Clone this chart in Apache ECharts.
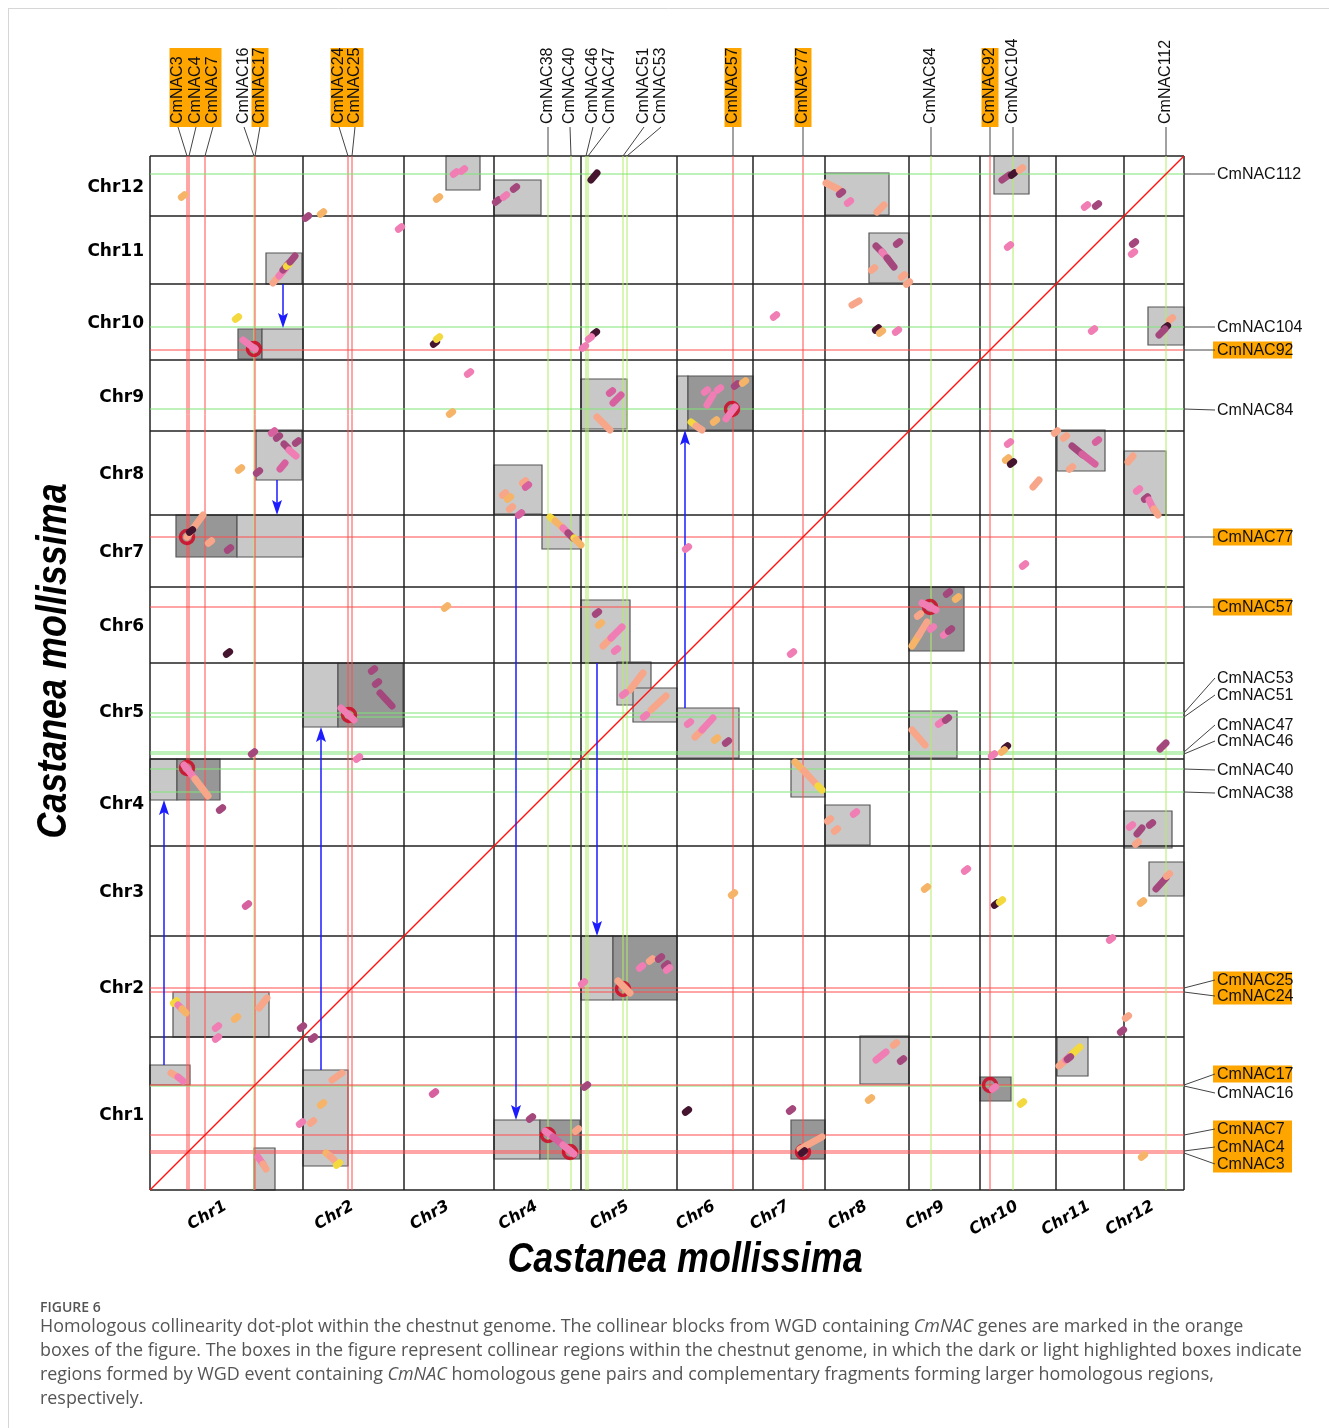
<!DOCTYPE html>
<html><head><meta charset="utf-8">
<script src="https://cdn.jsdelivr.net/npm/echarts@6/dist/echarts.min.js"></script>
<style>html,body{margin:0;padding:0;background:#fff}#chart{width:1329px;height:1428px}</style>
</head><body><div id="chart"></div>
<script>
// ---------------- DATA ----------------
const chrNames = ['Chr1','Chr2','Chr3','Chr4','Chr5','Chr6','Chr7','Chr8','Chr9','Chr10','Chr11','Chr12'];
const chrLen = [153,101,90,87,96,76,72,84,71,76,68,60];

const geneNames = ['CmNAC3','CmNAC4','CmNAC7','CmNAC16','CmNAC17','CmNAC24','CmNAC25','CmNAC38','CmNAC40','CmNAC46','CmNAC47','CmNAC51','CmNAC53','CmNAC57','CmNAC77','CmNAC84','CmNAC92','CmNAC104','CmNAC112'];
const genePos = [37,39,55,104,105,198,202,398,421,436,438,473,477,583,653,781,840,863,1016];
const geneWGD = [1,1,1,0,1,1,1,0,0,0,0,0,0,1,1,0,1,0,0];

// collinear blocks: [x1, y1, x2, y2, dark]
const boxes = [
 [296,1000,330,1034,0],[344,975,391,1010,0],[675,975,739,1017,0],[844,996,879,1034,0],
 [116,906,152,937,0],[719,907,759,957,0],
 [88,831,112,861,1],[112,831,153,861,0],[998,845,1034,883,0],
 [431,761,477,811,0],[527,760,538,814,0],[538,760,603,814,1],
 [106,710,152,760,0],[344,676,392,725,0],[907,719,955,760,0],[974,675,1016,739,0],
 [26,633,87,675,1],[87,633,153,675,0],[392,641,430,675,0],
 [431,527,480,590,0],[759,539,814,603,1],
 [153,463,188,527,0],[188,463,253,527,1],[467,485,501,528,0],[483,468,527,502,0],[527,432,589,482,0],[759,432,807,479,0],
 [0,390,27,431,0],[27,390,70,431,1],[641,393,675,431,0],[675,345,720,385,0],[974,342,1022,379,0],
 [999,294,1034,328,0],
 [431,190,463,254,0],[463,190,527,254,1],[23,153,119,198,0],
 [0,105,40,125,0],[153,24,198,120,0],[104,0,125,42,0],[344,31,390,70,0],[390,31,430,70,1],
 [641,31,675,70,1],[710,106,759,154,0],[830,89,861,113,1],[907,114,938,153,0]
];

// blue arrows: [x, yFrom, yTo]
const arrows = [[133,906,862],[127,710,675],[14,125,390],[171,120,463],[366,675,70],[447,527,254],[535,482,760]];

// highlighted WGD gene pairs
const pairs = [[37,653],[104,841],[37,422],[199,475],[582,781],[780,583],[473,201],[398,55],[420,38],[653,38],[840,105]];

// dot segments: [x1, y1, x2, y2, colourIndex]
const dots = [
 [33,994,33,994,2],[288,992,288,992,2],[305,1017,305,1017,0],[313,1020,313,1020,0],
 [347,989,347,989,5],[355,994,355,994,0],[365,1002,365,1002,5],[441,1010,447,1017,4],
 [676,1007,690,1000,1],[691,997,691,997,5],[699,988,699,988,0],[727,978,734,985,1],
 [852,1010,859,1015,5],[863,1016,863,1016,4],[871,1021,871,1021,1],
 [936,984,936,984,0],[947,985,947,985,5],[157,973,157,973,5],[172,977,172,977,2],[250,962,250,962,0],
 [123,907,129,914,1],[129,914,136,922,0],[133,920,138,926,5],[138,925,138,925,3],[140,928,145,934,5],
 [726,944,733,937,5],[732,938,738,931,0],[737,932,744,923,5],
 [748,947,748,947,5],[723,921,723,921,1],[753,914,753,914,1],[758,907,758,907,1],
 [859,944,859,944,0],[984,947,984,947,5],[983,937,983,937,0],
 [87,872,87,872,3],[93,850,105,841,0],[285,847,285,847,4],[288,852,288,852,3],
 [445,857,445,857,4],[440,852,440,852,0],[434,843,434,843,0],[625,874,625,874,0],
 [702,885,709,889,1],[727,861,727,861,4],[731,858,731,858,2],[747,859,747,859,0],
 [943,860,943,860,0],[1021,871,1021,871,1],[1016,863,1016,863,4],[1009,855,1015,861,5],
 [319,817,319,817,0],[301,777,301,777,2],
 [461,798,461,798,6],[463,787,471,795,6],[447,773,460,760,1],
 [556,799,556,799,0],[569,801,569,801,0],[557,785,563,795,0],[586,805,586,805,5],[594,808,594,808,2],
 [576,771,585,783,0],[541,768,545,765,3],[546,764,552,760,1],[565,769,565,769,2],
 [90,721,90,721,2],
 [123,758,123,758,6],[128,753,128,753,5],[134,746,138,742,5],[139,740,146,734,0],[147,748,147,748,5],[130,721,135,727,6],[108,718,108,718,5],
 [354,696,354,696,1],[359,692,359,692,2],[361,682,361,682,1],[370,676,370,676,6],[374,708,374,708,1],[377,704,377,704,6],
 [859,747,859,747,0],[857,731,857,731,2],[862,727,862,727,4],[883,703,889,710,1],
 [906,758,906,758,1],[915,753,915,753,1],[922,744,933,735,5],[932,736,945,726,6],[947,749,947,749,6],[921,722,921,722,1],
 [978,728,983,734,1],[988,700,988,700,0],[996,692,996,692,5],[999,690,1004,680,0],[1004,681,1008,675,1],
 [37,653,53,675,1],[41,659,41,659,4],[60,648,60,648,1],[79,641,79,641,5],
 [400,673,405,669,3],[405,669,414,661,2],[413,662,418,657,0],[418,657,423,652,5],[424,652,425,651,3],[426,650,431,645,2],
 [537,642,537,642,0],[874,625,874,625,0],
 [296,583,296,583,2],[78,537,78,537,4],
 [447,577,447,577,5],[450,566,450,566,2],[453,544,462,553,1],[461,552,472,563,0],[466,540,466,540,0],
 [642,537,642,537,0],
 [772,587,786,580,0],[798,597,798,597,5],[807,592,807,592,2],[762,544,769,555,2],[769,555,777,568,1],
 [782,562,782,562,0],[795,556,795,556,0],[800,560,800,560,5],[769,575,769,575,1],
 [223,520,223,520,5],[227,507,227,507,5],[230,497,242,484,5],[191,482,204,470,0],
 [480,500,493,517,1],[474,496,474,496,0],[501,480,516,494,1],[495,474,495,474,0],
 [539,467,539,467,0],[545,453,553,461,1],[552,460,563,472,0],[566,451,566,451,2],[577,448,577,448,5],
 [762,460,775,445,1],[790,467,790,467,0],[797,471,797,471,5],
 [103,437,103,437,5],[208,432,208,432,0],
 [843,435,843,435,0],[856,443,856,443,4],[853,439,853,439,2],[1010,441,1016,447,5],
 [34,425,46,410,0],[45,411,58,394,1],[71,381,71,381,5],
 [645,428,655,418,2],[654,419,666,406,1],[668,404,672,400,3],
 [679,370,679,370,1],[686,360,686,360,1],[705,377,705,377,0],
 [981,364,981,364,0],[987,356,992,362,5],[1001,366,1001,366,5],[987,347,987,347,1],
 [97,285,97,285,6],[583,296,583,296,2],[776,302,776,302,2],[816,320,816,320,0],
 [846,286,846,286,4],[851,289,851,289,3],[992,288,992,288,2],
 [1006,301,1016,312,5],[1018,315,1018,315,1],[961,251,961,251,0],
 [25,188,25,188,3],[28,185,32,181,0],[32,181,36,177,2],[67,163,67,163,0],[67,152,67,152,0],[86,172,86,172,2],[109,182,117,192,1],
 [152,163,152,163,5],[163,152,163,152,5],
 [468,209,480,197,1],[491,223,491,223,0],[501,230,501,230,1],[510,232,510,232,5],[516,225,516,225,5],[518,221,518,221,0],
 [433,207,433,207,0],[977,173,977,173,1],[972,159,972,159,5],
 [21,117,28,113,1],[28,113,33,109,0],
 [182,110,192,117,1],[172,86,172,86,2],[151,67,151,67,0],[162,68,162,68,1],[176,37,181,33,2],[180,34,184,30,1],[188,26,188,26,3],
 [108,33,113,26,0],[113,26,116,21,1],
 [284,97,284,97,6],[436,104,436,104,5],
 [381,72,381,72,5],[395,59,403,53,0],[403,53,413,45,6],[413,45,424,36,0],[427,60,427,60,1],
 [537,79,537,79,4],[641,80,641,80,5],
 [650,41,672,53,1],[653,38,653,38,4],
 [726,130,736,138,0],[752,130,752,130,5],[745,146,745,146,1],[720,91,720,91,2],
 [844,102,844,102,0],[872,87,872,87,3],
 [909,124,916,130,1],[916,130,922,136,0],[922,136,930,143,3],[919,132,919,132,5],
 [993,34,993,34,2]
];

// ---------------- LAYOUT / STYLE ----------------
const topLabelAt   = [28,46,63,94,110,189,205,398,420,443,460,494,511,583,653,781,840,863,1016];
const rightLabelAt = [26,43,61,97,116,194,210,397,420,449,465,495,512,583,653,780,840,863,1016];
const orangeGroups = [[0,2],[4,4],[5,6],[13,13],[14,14],[16,16]];
const dotColors = ['#f07db3','#f8a689','#f6b468','#f4d93e','#45142f','#a3477d','#d7609f'];
const labelFont = '"Liberation Sans", Arial, sans-serif';

const total = chrLen.reduce((a, b) => a + b, 0);
const bounds = [0];
chrLen.forEach(l => bounds.push(bounds[bounds.length - 1] + l));
const mids = chrLen.map((l, i) => bounds[i] + l / 2);

const chart = echarts.init(document.getElementById('chart'));

function rectBetween(a, b) {
  return {x: Math.min(a[0], b[0]), y: Math.min(a[1], b[1]), width: Math.abs(b[0] - a[0]), height: Math.abs(b[1] - a[1])};
}

const option = {
  animation: false,
  backgroundColor: '#fff',
  grid: {left: 150, top: 156, width: 1034, height: 1034, containLabel: false},
  xAxis: {type: 'value', min: 0, max: total, show: false},
  yAxis: {type: 'value', min: 0, max: total, show: false},
  series: [
    { // collinear blocks
      type: 'custom', name: 'blocks', silent: true, z: 1,
      data: boxes,
      renderItem: (p, api) => {
        const a = api.coord([api.value(0), api.value(3)]);
        const b = api.coord([api.value(2), api.value(1)]);
        return {type: 'rect', shape: rectBetween(a, b),
          style: {fill: api.value(4) ? '#979797' : '#c8c8c8', stroke: '#555', lineWidth: 1.2}};
      }
    },
    { // chromosome boundaries
      type: 'custom', name: 'chromosomes', silent: true, z: 2,
      data: bounds.map(b => [b, b]),
      renderItem: (p, api) => {
        const b = api.value(0);
        const v1 = api.coord([b, 0]), v2 = api.coord([b, total]);
        const h1 = api.coord([0, b]), h2 = api.coord([total, b]);
        const st = {stroke: '#222', lineWidth: 1.5};
        return {type: 'group', children: [
          {type: 'line', shape: {x1: v1[0], y1: v1[1], x2: v2[0], y2: v2[1]}, style: st},
          {type: 'line', shape: {x1: h1[0], y1: h1[1], x2: h2[0], y2: h2[1]}, style: st}
        ]};
      }
    },
    { // gene position lines
      type: 'custom', name: 'genes', silent: true, z: 3,
      data: genePos.map((g, i) => [g, g, geneWGD[i]]),
      renderItem: (p, api) => {
        const g = api.value(0), w = api.value(2);
        const v1 = api.coord([g, 0]), v2 = api.coord([g, total]);
        const h1 = api.coord([0, g]), h2 = api.coord([total, g]);
        return {type: 'group', children: [
          {type: 'line', shape: {x1: v1[0], y1: v1[1], x2: v2[0], y2: v2[1]},
            style: {stroke: w ? '#ff4d4d' : '#b3ec66', lineWidth: 1}},
          {type: 'line', shape: {x1: h1[0], y1: h1[1], x2: h2[0], y2: h2[1]},
            style: {stroke: w ? '#ff4d4d' : '#80e676', lineWidth: 1.1}}
        ]};
      }
    },
    { // diagonal
      type: 'line', name: 'diagonal', silent: true, z: 4, symbol: 'none',
      data: [[0, 0], [total, total]],
      lineStyle: {color: '#ff1414', width: 1.5}
    },
    { // arrows
      type: 'custom', name: 'arrows', silent: true, z: 5,
      data: arrows,
      renderItem: (p, api) => {
        const s = api.coord([api.value(0), api.value(1)]);
        const e = api.coord([api.value(0), api.value(2)]);
        const dir = e[1] > s[1] ? 1 : -1;
        const base = e[1] - dir * 12;
        return {type: 'group', children: [
          {type: 'line', shape: {x1: s[0], y1: s[1], x2: e[0], y2: base}, style: {stroke: '#1c1cff', lineWidth: 1.5}},
          {type: 'polygon', shape: {points: [[e[0], e[1]], [e[0] - 5, base - dir * 3], [e[0], base], [e[0] + 5, base - dir * 3]]},
            style: {fill: '#1c1cff'}}
        ]};
      }
    },
    { // highlighted pairs
      type: 'scatter', name: 'pairs', silent: true, z: 6,
      data: pairs, symbol: 'circle', symbolSize: 13,
      itemStyle: {color: 'rgba(255,255,255,0)', borderColor: '#d2001e', borderWidth: 3.5}
    },
    { // dots
      type: 'custom', name: 'dots', silent: true, z: 7,
      data: dots,
      renderItem: (p, api) => {
        let a = api.coord([api.value(0), api.value(1)]);
        let b = api.coord([api.value(2), api.value(3)]);
        if (Math.abs(a[0] - b[0]) < 0.5 && Math.abs(a[1] - b[1]) < 0.5) {
          a = [a[0] - 1.6, a[1] + 1.3]; b = [b[0] + 1.6, b[1] - 1.3];
        }
        return {type: 'line', shape: {x1: a[0], y1: a[1], x2: b[0], y2: b[1]},
          style: {stroke: dotColors[api.value(4)], lineWidth: 7, lineCap: 'round'}};
      }
    },
    { // orange highlight boxes behind labels
      type: 'custom', name: 'wgdLabelBoxes', silent: true, z: 8,
      data: orangeGroups.map(g => [topLabelAt[g[0]], rightLabelAt[g[0]], topLabelAt[g[1]], rightLabelAt[g[1]]]),
      renderItem: (p, api) => {
        const tl = api.coord([api.value(0), total]);
        const tr = api.coord([api.value(2), total]);
        const r1 = api.coord([total, api.value(1)]);
        const r2 = api.coord([total, api.value(3)]);
        const top = tl[1], right = r1[0];
        return {type: 'group', children: [
          {type: 'rect', shape: {x: tl[0] - 8.5, y: top - 108, width: tr[0] - tl[0] + 17, height: 79}, style: {fill: '#ffa500'}},
          {type: 'rect', shape: {x: right + 29, y: r2[1] - 8.5, width: 79, height: r1[1] - r2[1] + 17}, style: {fill: '#ffa500'}}
        ]};
      }
    },
    { // top gene labels
      type: 'custom', name: 'topLabels', silent: true, z: 9,
      data: genePos.map((g, i) => [g, topLabelAt[i]]),
      renderItem: (p, api) => {
        const gx = api.coord([api.value(0), total]);
        const lx = api.coord([api.value(1), total]);
        const top = gx[1];
        return {type: 'group', children: [
          {type: 'line', shape: {x1: lx[0], y1: top - 29, x2: gx[0], y2: top}, style: {stroke: '#444', lineWidth: 1}},
          {type: 'text', x: lx[0], y: top - 32, rotation: Math.PI / 2,
            style: {text: geneNames[p.dataIndex], fontSize: 16, fontFamily: labelFont, fill: '#111', align: 'left', verticalAlign: 'middle'}}
        ]};
      }
    },
    { // right gene labels
      type: 'custom', name: 'rightLabels', silent: true, z: 9,
      data: genePos.map((g, i) => [total, g, rightLabelAt[i]]),
      renderItem: (p, api) => {
        const gy = api.coord([total, api.value(1)]);
        const ly = api.coord([total, api.value(2)]);
        const right = gy[0];
        return {type: 'group', children: [
          {type: 'line', shape: {x1: right, y1: gy[1], x2: right + 31, y2: ly[1]}, style: {stroke: '#444', lineWidth: 1}},
          {type: 'text', x: right + 33, y: ly[1] + 1,
            style: {text: geneNames[p.dataIndex], fontSize: 16, fontFamily: labelFont, fill: '#111', align: 'left', verticalAlign: 'middle'}}
        ]};
      }
    },
    { // chromosome labels
      type: 'custom', name: 'chrLabels', silent: true, z: 9,
      data: mids.map(m => [m, m]),
      renderItem: (p, api) => {
        const m = api.value(0);
        const cx = api.coord([m, 0]);
        const cy = api.coord([0, m]);
        return {type: 'group', children: [
          {type: 'text', x: cy[0] - 6, y: cy[1] + 2,
            style: {text: chrNames[p.dataIndex], fontSize: 17, fontWeight: 'bold', fontFamily: '"DejaVu Sans", sans-serif', fill: '#000', align: 'right', verticalAlign: 'middle'}},
          {type: 'text', x: cx[0] - 1, y: cx[1] + 15, rotation: Math.PI / 6,
            style: {text: chrNames[p.dataIndex], fontSize: 16, fontWeight: 'bold', fontStyle: 'italic', fontFamily: '"DejaVu Sans", sans-serif', fill: '#000', align: 'right', verticalAlign: 'middle'}}
        ]};
      }
    }
  ],
  graphic: [
    {type: 'line', silent: true, shape: {x1: 8, y1: 8.5, x2: 1329, y2: 8.5}, style: {stroke: '#d6d6d6', lineWidth: 1}},
    {type: 'line', silent: true, shape: {x1: 8.5, y1: 8, x2: 8.5, y2: 1428}, style: {stroke: '#d6d6d6', lineWidth: 1}},
    {type: 'text', silent: true, x: 685, y: 1260, scaleX: 0.835,
      style: {text: 'Castanea mollissima', fontSize: 43, fontWeight: 'bold', fontStyle: 'italic', fontFamily: labelFont, fill: '#000', align: 'center', verticalAlign: 'middle'}},
    {type: 'text', silent: true, x: 54, y: 661, rotation: Math.PI / 2, scaleX: 0.835,
      style: {text: 'Castanea mollissima', fontSize: 43, fontWeight: 'bold', fontStyle: 'italic', fontFamily: labelFont, fill: '#000', align: 'center', verticalAlign: 'middle'}},
    {type: 'text', silent: true, x: 40, y: 1308,
      style: {text: 'FIGURE 6', fontSize: 14, fontWeight: 600, fontFamily: '"Open Sans", sans-serif', fill: '#555', verticalAlign: 'middle'}}
  ]
};

const captionLines = [
  'Homologous collinearity dot-plot within the chestnut genome. The collinear blocks from WGD containing {i|CmNAC} genes are marked in the orange',
  'boxes of the figure. The boxes in the figure represent collinear regions within the chestnut genome, in which the dark or light highlighted boxes indicate',
  'regions formed by WGD event containing {i|CmNAC} homologous gene pairs and complementary fragments forming larger homologous regions,',
  'respectively.'
];
captionLines.forEach((t, k) => {
  option.graphic.push({type: 'text', silent: true, x: 40, y: 1327 + k * 24,
    style: {text: t, fontSize: 17.9, fontFamily: '"Open Sans", sans-serif', fill: '#555', verticalAlign: 'middle',
      rich: {i: {fontSize: 17.9, fontStyle: 'italic', fontFamily: '"Open Sans", sans-serif', fill: '#555'}}}});
});

chart.setOption(option);
</script>
</body></html>
